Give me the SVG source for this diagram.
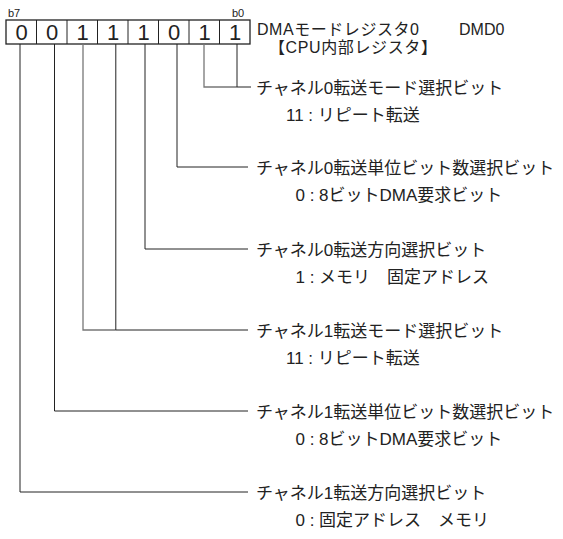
<svg xmlns="http://www.w3.org/2000/svg" width="563" height="539" viewBox="0 0 563 539">
<style>
text{font-family:"Liberation Sans","Noto Sans CJK JP",sans-serif;fill:#222}
.bit{font-size:22px;text-anchor:middle}
.lbl{font-size:17px}
.hdr{font-size:16px}
.bn{font-size:11px}
.cell{fill:#fff;stroke:#222;stroke-width:1.3}
.ln{fill:none;stroke:#222;stroke-width:1}
.lg{fill:none;stroke:#777;stroke-width:1.3}
</style>
<rect width="563" height="539" fill="#fff"/>
<g id="register">
<text class="bn" x="8" y="17">b7</text>
<text class="bn" x="232" y="17">b0</text>
<rect class="cell" x="6" y="20" width="244" height="24"/>
<path class="ln" d="M36.5 20V44M67 20V44M97.5 20V44M128 20V44M158.5 20V44M189 20V44M219.5 20V44" stroke-width="1.3"/>
<text class="bit" x="21.5" y="40">0</text>
<text class="bit" x="52" y="40">0</text>
<text class="bit" x="82.5" y="40">1</text>
<text class="bit" x="113" y="40">1</text>
<text class="bit" x="143.5" y="40">1</text>
<text class="bit" x="174" y="40">0</text>
<text class="bit" x="204.5" y="40">1</text>
<text class="bit" x="235" y="40">1</text>
</g>
<g id="title">
<text class="hdr" x="257" y="35" textLength="162" lengthAdjust="spacing">DMAモードレジスタ0</text>
<text class="hdr" x="459" y="35">DMD0</text>
<text class="hdr" x="269" y="53" textLength="168" lengthAdjust="spacing">【CPU内部レジスタ】</text>
</g>
<g id="connectors">
<path class="lg" d="M204 44V87H237"/>
<path class="ln" d="M237 44V87H251"/>
<path class="ln" d="M177 44V167H248"/>
<path class="ln" d="M145 44V249H248"/>
<path class="lg" d="M83 44V330H115.8"/>
<path class="ln" d="M115.8 44V330H248"/>
<path class="ln" d="M54.5 44V411H248"/>
<path class="ln" d="M20 44V492H248"/>
</g>
<g id="field0">
<text class="lbl" x="256" y="93.5">チャネル0転送モード選択ビット</text>
<text class="lbl" x="286" y="120.5">11 : リピート転送</text>
</g>
<g id="field1">
<text class="lbl" x="256" y="173.5">チャネル0転送単位ビット数選択ビット</text>
<text class="lbl" x="295.5" y="200.5">0 : 8ビットDMA要求ビット</text>
</g>
<g id="field2">
<text class="lbl" x="256" y="255.5">チャネル0転送方向選択ビット</text>
<text class="lbl" x="295.5" y="282.5">1 : メモリ　固定アドレス</text>
</g>
<g id="field3">
<text class="lbl" x="256" y="336.5">チャネル1転送モード選択ビット</text>
<text class="lbl" x="286" y="363.5">11 : リピート転送</text>
</g>
<g id="field4">
<text class="lbl" x="256" y="417.5">チャネル1転送単位ビット数選択ビット</text>
<text class="lbl" x="295.5" y="444.5">0 : 8ビットDMA要求ビット</text>
</g>
<g id="field5">
<text class="lbl" x="256" y="498.5">チャネル1転送方向選択ビット</text>
<text class="lbl" x="295.5" y="525.5">0 : 固定アドレス　メモリ</text>
</g>
</svg>
